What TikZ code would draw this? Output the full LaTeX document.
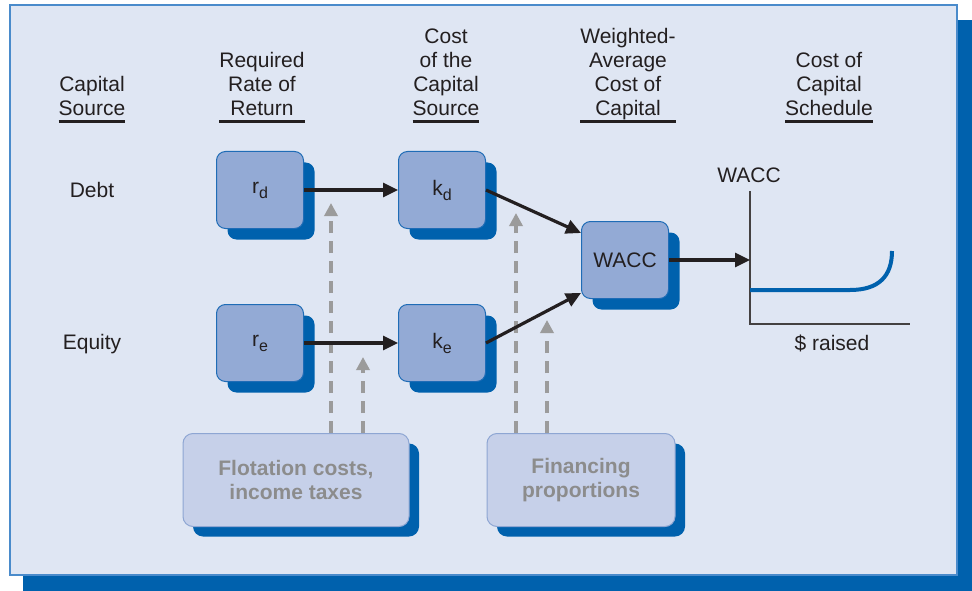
\documentclass[tikz,border=0pt]{standalone}
\usepackage{fontspec}
\setmainfont{Liberation Sans}
\usetikzlibrary{arrows.meta, positioning, shadows}

\definecolor{panelbg}{HTML}{DFE6F3}
\definecolor{panelline}{HTML}{4A8BCB}
\definecolor{deepblue}{HTML}{0061AD}
\definecolor{boxfill}{HTML}{93AAD5}
\definecolor{boxline}{HTML}{1F6CB6}
\definecolor{softfill}{HTML}{C6D0E9}
\definecolor{softline}{HTML}{8EA6D3}
\definecolor{inkgrey}{HTML}{8C8C8C}
\definecolor{dashgrey}{HTML}{9B9B9B}
\definecolor{ink}{HTML}{231F20}

\newcommand{\lowsub}[1]{\raisebox{-5pt}{\fontsize{16}{16}\selectfont #1}}

\tikzset{
  txt/.style={font=\fontsize{21}{24}\selectfont, text=ink, align=center, inner sep=0pt},
  head/.style={txt, anchor=south, text depth=0pt},
  ratebox/.style={draw=boxline, fill=boxfill, line width=1pt, rounded corners=9pt,
    minimum width=87pt, minimum height=77pt, font=\fontsize{21}{24}\selectfont, text=ink,
    general shadow={fill=deepblue, shadow xshift=11pt, shadow yshift=-11pt}},
  infobox/.style={draw=softline, fill=softfill, line width=1pt, rounded corners=10pt,
    minimum height=93pt, align=center, font=\bfseries\fontsize{21}{24}\selectfont, text=inkgrey,
    general shadow={fill=deepblue, shadow xshift=10pt, shadow yshift=-10pt}},
  flow/.style={draw=ink, line width=3.2pt, -{Triangle[length=15pt,width=14pt]}},
  adjust/.style={draw=dashgrey, line width=3.5pt, dash pattern=on 12pt off 8pt,
    -{Triangle[length=13pt,width=13pt]}},
  uline/.style={draw=ink, line width=3pt},
  axis/.style={draw=ink!85, line width=1.2pt},
  curve/.style={draw=deepblue, line width=4pt},
}

\begin{document}
\begin{tikzpicture}[x=1pt, y=-1pt, node distance=182pt, on grid]
  \useasboundingbox (0,0) rectangle (972,591);
  % panel
  \fill[deepblue] (23,20) rectangle (972,591);
  \filldraw[fill=panelbg, draw=panelline, line width=1.2pt] (10,5) rectangle (957,575);

  % column headings
  \node[head] (hsrc) at (92,116) {Capital\\Source};
  \node[head] (hrate) at (262,116) {Required\\Rate of\\Return};
  \node[head] (hcost) at (446,116) {Cost\\of the\\Capital\\Source};
  \node[head] (hwacc) at (628,116) {Weighted-\\Average\\Cost of\\Capital};
  \node[head] (hsched) at (829,116) {Cost of\\Capital\\Schedule};
  \foreach \h in {hsrc, hrate, hcost, hwacc, hsched}
    \draw[uline] ([yshift=-6pt]\h.south west) -- ([yshift=-6pt]\h.south east);

  % rows
  \node[txt] (debt) at (92,190) {Debt};
  \node[txt] (equity) at (92,344) {Equity};

  \node[ratebox] (rd) at (260,190) {r\lowsub{d}};
  \node[ratebox] (kd) [right=of rd] {k\lowsub{d}};
  \node[ratebox] (re) at (260,343) {r\lowsub{e}};
  \node[ratebox] (ke) [right=of re] {k\lowsub{e}};
  \node[ratebox] (wacc) at (625,260) {WACC};

  \node[infobox, minimum width=226pt] (flot) at (296,480) {Flotation costs,\\income taxes};
  \node[infobox, minimum width=188pt] (fin) at (581,480) {Financing\\proportions};

  % schedule graph
  \coordinate (ytop) at (750,191);
  \coordinate (org) at (750,324);
  \coordinate (xend) at (910,324);
  \draw[axis] (ytop) -- (org) -- (xend);
  \draw[curve] (750,290) -- (850,290) .. controls (879,290) and (892,276) .. (892,251);
  \node[txt] (ylab) at (749,175) {WACC};
  \node[txt] (xlab) at (832,343) {\$ raised};

  % adjustments
  \coordinate (g1) at (331,203);
  \coordinate (g2) at (363,357);
  \coordinate (g3) at (516,213);
  \coordinate (g4) at (547,320);
  \draw[adjust] (flot.north -| g1) -- (g1);
  \draw[adjust] (flot.north -| g2) -- (g2);
  \draw[adjust] (fin.north -| g3) -- (g3);
  \draw[adjust] (fin.north -| g4) -- (g4);

  % flows
  \draw[flow] (rd) -- (kd);
  \draw[flow] (re) -- (ke);
  \draw[flow] (kd.east) -- ([yshift=27pt]wacc.west);
  \draw[flow] (ke.east) -- ([yshift=-33pt]wacc.west);
  \draw[flow] (wacc.east) -- (wacc.east -| org);
\end{tikzpicture}
\end{document}
